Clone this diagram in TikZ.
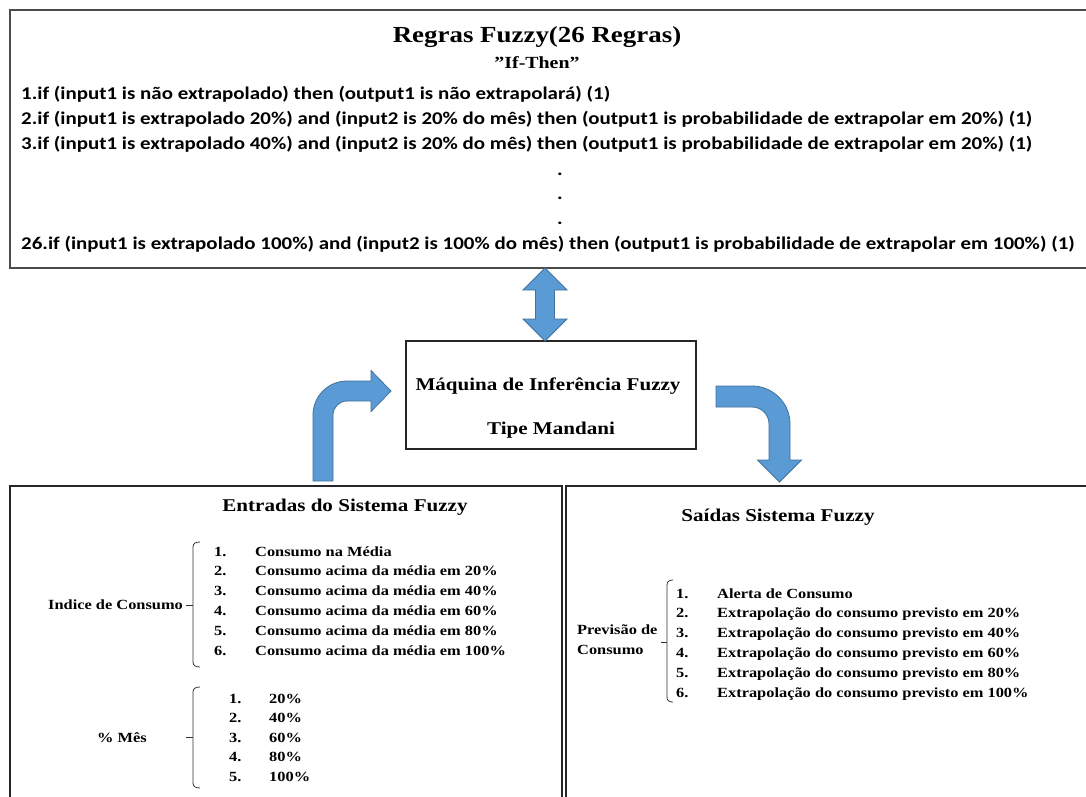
\documentclass[tikz,border=0pt]{standalone}
\usepackage{fontspec}
\setmainfont{Liberation Serif}[FakeStretch=1.17]
\newfontfamily\rulefont{Carlito}[FakeStretch=1.17]
\begin{document}
\begin{tikzpicture}[x=1pt,y=-1pt,
  boxline/.style={draw=black!85,line width=1.6pt},
  topline/.style={draw=black!70,line width=1.6pt},
  barrow/.style={fill=arrowfill,draw=arrowline,line width=0.8pt,line join=miter},
  bracketline/.style={draw=black!80,line width=0.8pt},
  title/.style={inner sep=0pt,font=\fontsize{23}{23}\selectfont\bfseries},
  subtitle/.style={inner sep=0pt,font=\fontsize{17}{17}\selectfont\bfseries},
  rule/.style={inner sep=0pt,anchor=base west,font=\rulefont\fontsize{17.9}{17.9}\selectfont\bfseries},
  dotline/.style={inner sep=0pt,anchor=base,font=\rulefont\fontsize{17.9}{17.9}\selectfont\bfseries},
  head/.style={inner sep=0pt,anchor=base,font=\fontsize{18}{18}\selectfont\bfseries},
  item/.style={inner sep=0pt,anchor=base west,font=\fontsize{14}{14}\selectfont\bfseries},
]
\definecolor{arrowfill}{HTML}{5B9BD5}
\definecolor{arrowline}{HTML}{41719C}
\useasboundingbox (0,0) rectangle (1086,796);
\clip (0,0) rectangle (1086,796);
\fill[white] (0,0) rectangle (1086,796);

% ---- top box: rules
\draw[topline] (10,10) rectangle (1100,268);
\node[title,anchor=base] (t1) at (537,42) {Regras Fuzzy(26 Regras)};
\node[subtitle,anchor=base] (t2) at (537,68) {”If-Then”};
\node[rule] (r1) at (21,99) {1.if (input1 is não extrapolado) then (output1 is não extrapolará) (1)};
\node[rule] (r2) at (21,124) {2.if (input1 is extrapolado 20\%) and (input2 is 20\% do mês) then (output1 is probabilidade de extrapolar em 20\%) (1)};
\node[rule] (r3) at (21,149) {3.if (input1 is extrapolado 40\%) and (input2 is 20\% do mês) then (output1 is probabilidade de extrapolar em 20\%) (1)};
\node[dotline] (d1) at (560,175) {.};
\node[dotline] (d2) at (560,199.5) {.};
\node[dotline] (d3) at (560,224) {.};
\node[rule] (r26) at (21,249) {26.if (input1 is extrapolado 100\%) and (input2 is 100\% do mês) then (output1 is probabilidade de extrapolar em 100\%) (1)};

% ---- inference box
\node[boxline,minimum width=290pt,minimum height=108pt,inner sep=0pt] (mif) at (551,395) {};
\node[head] (m1) at (548,390) {Máquina de Inferência Fuzzy};
\node[head] (m2) at (551,434) {Tipe Mandani};

% ---- block arrows
\draw[barrow] (545,268) -- (567,290) -- (554.5,290) -- (554.5,319) -- (567,319) -- (545,341)
  -- (523,319) -- (535.5,319) -- (535.5,290) -- (523,290) -- cycle;
\draw[barrow] (313,481) -- (313,415) .. controls (313,396.2) and (328.2,381) .. (347,381)
  -- (371,381) -- (371,370.5) -- (391,391) -- (371,411.5) -- (371,401) -- (347,401)
  .. controls (339.3,401) and (333,407.3) .. (333,415) -- (333,481) -- cycle;
\draw[barrow] (716,386) -- (752,386) .. controls (773,386) and (790,403) .. (790,424)
  -- (790,460) -- (801.5,460) -- (779.5,482) -- (757.5,460) -- (769,460) -- (769,424)
  .. controls (769,414.6) and (761.4,407) .. (752,407) -- (716,407) -- cycle;

% ---- inputs box
\draw[boxline] (10,486) rectangle (562,820);
\node[head] (in) at (345,511) {Entradas do Sistema Fuzzy};
\node[item] (ic) at (48,609) {Indice de Consumo};
\draw[bracketline] (200,542) .. controls (195.5,542) and (193,543.5) .. (193,547) -- (193,662)
  .. controls (193,665.5) and (195.5,667) .. (200,667);
\draw[bracketline] (186,605) -- (193,605);
\foreach \n/\t [count=\i] in {1/Consumo na Média,2/Consumo acima da média em 20\%,3/Consumo acima da média em 40\%,4/Consumo acima da média em 60\%,5/Consumo acima da média em 80\%,6/Consumo acima da média em 100\%}{
  \node[item] (ia\i) at (214,{536.3+19.8*\i}) {\n.};
  \node[item] (ib\i) at (255,{536.3+19.8*\i}) {\t};
}
\node[item] (pm) at (97,742) {\% Mês};
\draw[bracketline] (200,687) .. controls (195.5,687) and (193,688.5) .. (193,692) -- (193,783)
  .. controls (193,786.5) and (195.5,788) .. (200,788);
\draw[bracketline] (186,737) -- (193,737);
\foreach \n/\t [count=\i] in {1/20\%,2/40\%,3/60\%,4/80\%,5/100\%}{
  \node[item] (ma\i) at (229,{683.5+19.5*\i}) {\n.};
  \node[item] (mb\i) at (269,{683.5+19.5*\i}) {\t};
}

% ---- outputs box
\draw[boxline] (566,486) rectangle (1100,820);
\node[head] (out) at (778,521) {Saídas Sistema Fuzzy};
\node[item] (pc1) at (577,634) {Previsão de};
\node[item] (pc2) at (577,654) {Consumo};
\draw[bracketline] (673,580) .. controls (669,580) and (667,581.5) .. (667,585) -- (667,697)
  .. controls (667,700.5) and (669,702) .. (673,702);
\draw[bracketline] (661,642) -- (667,642);
\foreach \n/\t [count=\i] in {1/Alerta de Consumo,2/Extrapolação do consumo previsto em 20\%,3/Extrapolação do consumo previsto em 40\%,4/Extrapolação do consumo previsto em 60\%,5/Extrapolação do consumo previsto em 80\%,6/Extrapolação do consumo previsto em 100\%}{
  \node[item] (oa\i) at (676,{578.2+19.8*\i}) {\n.};
  \node[item] (ob\i) at (717,{578.2+19.8*\i}) {\t};
}
\end{tikzpicture}
\end{document}
